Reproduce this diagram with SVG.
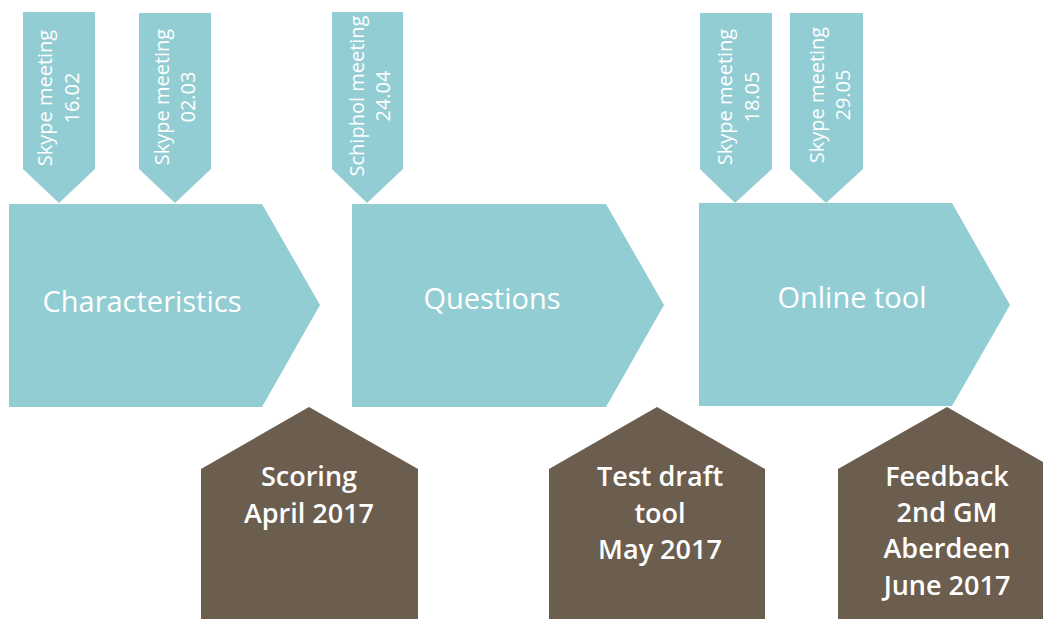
<svg xmlns="http://www.w3.org/2000/svg" width="1043" height="619" viewBox="0 0 1043 619">
<style>
.teal{fill:#92CDD4}
.brown{fill:#6C5E4F}
.lbl{font-family:"Open Sans","Liberation Sans",sans-serif;fill:#FFFFFF;text-anchor:middle}
.big{font-size:29px;font-weight:500}
.call{font-size:20px;font-weight:500}
.house{font-size:27px;font-weight:600}
</style>
<rect width="1043" height="619" fill="#FFFFFF"/>
<g id="phase-characteristics">
<polygon class="teal" points="9,204 262,204 320,305 262,407 9,407"/>
<text class="lbl big" x="142" y="312">Characteristics</text>
</g>
<g id="phase-questions">
<polygon class="teal" points="352,204 606,204 664,305 606,407 352,407"/>
<text class="lbl big" x="492" y="309">Questions</text>
</g>
<g id="phase-online-tool">
<polygon class="teal" points="699,203 952,203 1010,305 952,406 699,406"/>
<text class="lbl big" x="852" y="308">Online tool</text>
</g>
<g id="meeting-1">
<polygon class="teal" points="23,12 95,12 95,169 59,203 23,169"/>
<text class="lbl call" transform="translate(52,98) rotate(-90)"><tspan x="0" y="0">Skype meeting</tspan><tspan x="0" y="27">16.02</tspan></text>
</g>
<g id="meeting-2">
<polygon class="teal" points="139,13 211,13 211,169 175,203 139,169"/>
<text class="lbl call" transform="translate(169,97) rotate(-90)"><tspan x="0" y="0">Skype meeting</tspan><tspan x="0" y="26">02.03</tspan></text>
</g>
<g id="meeting-3">
<polygon class="teal" points="332,12 403,12 403,169 367,203 332,169"/>
<text class="lbl call" transform="translate(364,96) rotate(-90)"><tspan x="0" y="0">Schiphol meeting</tspan><tspan x="0" y="26">24.04</tspan></text>
</g>
<g id="meeting-4">
<polygon class="teal" points="700,13 772,13 772,169 735,203 700,169"/>
<text class="lbl call" transform="translate(732,97) rotate(-90)"><tspan x="0" y="0">Skype meeting</tspan><tspan x="0" y="27">18.05</tspan></text>
</g>
<g id="meeting-5">
<polygon class="teal" points="790,13 863,13 863,169 826,203 790,169"/>
<text class="lbl call" transform="translate(824,95) rotate(-90)"><tspan x="0" y="0">Skype meeting</tspan><tspan x="0" y="26">29.05</tspan></text>
</g>
<g id="milestone-scoring">
<polygon class="brown" points="201,469 309,407 418,469 418,619 201,619"/>
<text class="lbl house"><tspan x="309" y="486">Scoring</tspan><tspan x="309" y="523">April 2017</tspan></text>
</g>
<g id="milestone-test">
<polygon class="brown" points="549,469 657,407 765,469 765,619 549,619"/>
<text class="lbl house"><tspan x="660" y="486">Test draft</tspan><tspan x="660" y="523">tool</tspan><tspan x="660" y="559">May 2017</tspan></text>
</g>
<g id="milestone-feedback">
<polygon class="brown" points="838,469 947,407 1055,469 1055,619 838,619"/>
<text class="lbl house"><tspan x="947" y="486">Feedback</tspan><tspan x="947" y="522">2nd GM</tspan><tspan x="947" y="558">Aberdeen</tspan><tspan x="947" y="595">June 2017</tspan></text>
</g>
<g id="connectors"/>
</svg>
